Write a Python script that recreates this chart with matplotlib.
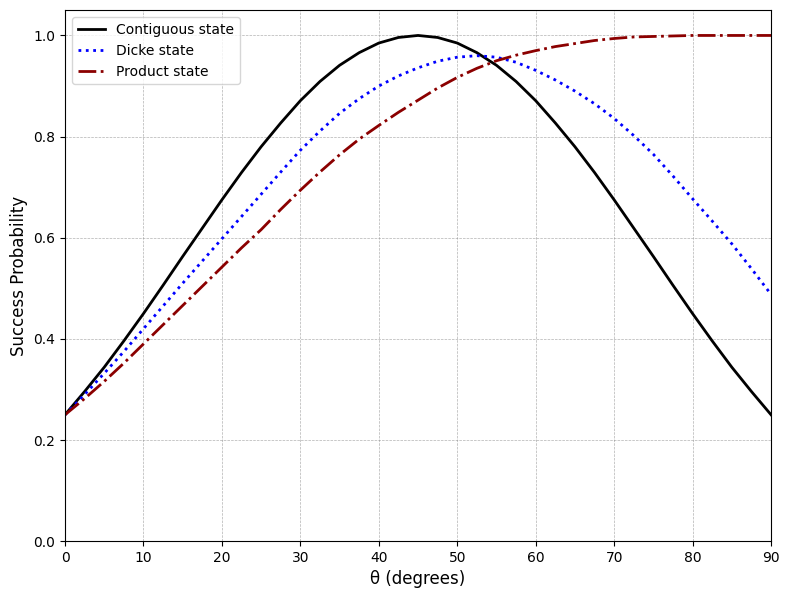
import matplotlib
matplotlib.use("Agg")
import matplotlib.pyplot as plt

# theta in degrees, 2.5 deg steps
theta = [0, 2.5, 5, 7.5, 10, 12.5, 15, 17.5, 20, 22.5, 25, 27.5, 30, 32.5, 35, 37.5,
         40, 42.5, 45, 47.5, 50, 52.5, 55, 57.5, 60, 62.5, 65, 67.5, 70, 72.5, 75, 77.5,
         80, 82.5, 85, 87.5, 90]

contiguous = [0.250, 0.296, 0.344, 0.396, 0.450, 0.506, 0.563, 0.619, 0.675, 0.729,
              0.780, 0.827, 0.871, 0.909, 0.941, 0.966, 0.985, 0.996, 1.000, 0.996,
              0.985, 0.966, 0.941, 0.909, 0.871, 0.827, 0.780, 0.729, 0.675, 0.619,
              0.563, 0.506, 0.450, 0.396, 0.344, 0.296, 0.250]

dicke = [0.250, 0.290, 0.332, 0.375, 0.420, 0.465, 0.510, 0.554, 0.598, 0.642,
         0.686, 0.730, 0.773, 0.811, 0.846, 0.875, 0.900, 0.920, 0.936, 0.949,
         0.957, 0.960, 0.957, 0.947, 0.931, 0.912, 0.890, 0.865, 0.836, 0.802,
         0.765, 0.722, 0.677, 0.633, 0.588, 0.539, 0.488]

product = [0.250, 0.282, 0.316, 0.352, 0.390, 0.428, 0.466, 0.504, 0.542, 0.580,
           0.616, 0.656, 0.694, 0.730, 0.764, 0.795, 0.822, 0.848, 0.872, 0.896,
           0.917, 0.935, 0.950, 0.961, 0.970, 0.978, 0.984, 0.990, 0.994, 0.997,
           0.998, 0.999, 1.000, 1.000, 1.000, 1.000, 1.000]

fig, ax = plt.subplots(figsize=(7.9, 5.98), dpi=100)
fig.subplots_adjust(left=0.0823, right=0.976, bottom=0.095, top=0.983)

ax.plot(theta, contiguous, color='black', linestyle='-', linewidth=2, label='Contiguous state')
ax.plot(theta, dicke, color='blue', linestyle=':', linewidth=2, label='Dicke state')
ax.plot(theta, product, color='darkred', linestyle='-.', linewidth=2, label='Product state')

ax.set_xlim(0, 90)
ax.set_ylim(0, 1.05)
ax.set_xticks(range(0, 91, 10))
ax.set_xlabel('θ (degrees)', fontsize=12)
ax.set_ylabel('Success Probability', fontsize=12)
ax.grid(True, linestyle='--', linewidth=0.5, color='gray', alpha=0.6)
ax.legend(loc='upper left')

fig.savefig('out.png', dpi=100)
